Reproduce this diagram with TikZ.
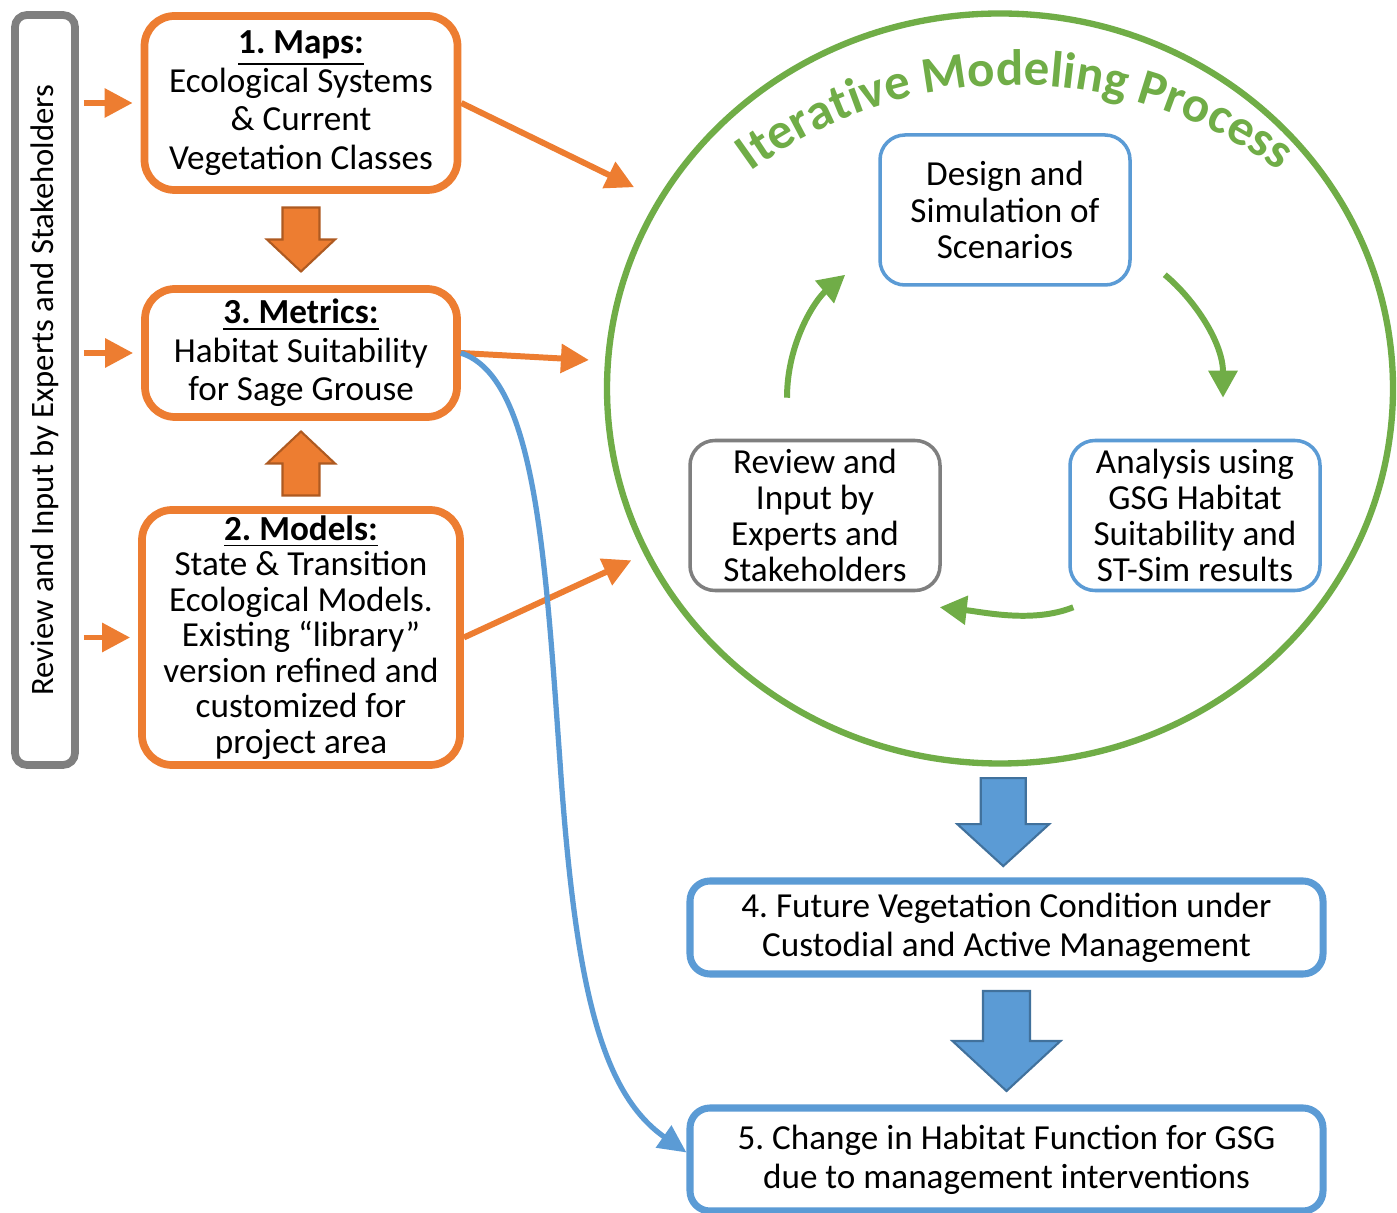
\documentclass[tikz,border=0pt]{standalone}
\usepackage{fontspec}
\setmainfont{Carlito}
\usetikzlibrary{arrows.meta, positioning, shapes.geometric, decorations.text, calc}

\definecolor{orng}{HTML}{ED7D31}
\definecolor{obdr}{HTML}{AE5A21}
\definecolor{blu}{HTML}{5B9BD5}
\definecolor{bbdr}{HTML}{41719C}
\definecolor{grn}{HTML}{70AD47}
\definecolor{gry}{HTML}{7F7F7F}

\tikzset{
  obox/.style = {draw=orng, line width=2.2pt, rounded corners=0.3cm, align=center, inner sep=0pt, font=\fontsize{10}{11}\selectfont},
  ibox/.style = {draw=blu, line width=1pt, rounded corners=0.25cm, align=center, inner sep=0pt,
                 minimum width=2.5cm, minimum height=1.5cm, font=\fontsize{10}{10.3}\selectfont},
  fbox/.style = {draw=blu, line width=2pt, rounded corners=0.2cm, align=center, inner sep=0pt,
                 minimum width=6.33cm, font=\fontsize{10}{11}\selectfont},
  panel/.style = {draw=gry, line width=2.2pt, rounded corners=0.12cm, inner sep=0pt,
                  minimum width=0.6cm, minimum height=7.5cm, font=\fontsize{9.3}{10}\selectfont},
  cyc/.style = {ellipse, draw=grn, line width=1.8pt, inner sep=0pt, minimum width=7.86cm, minimum height=7.5cm},
  oarrow/.style = {draw=orng, line width=1.7pt, -{Triangle[length=0.28cm, width=0.28cm]}},
  garrow/.style = {color=grn, line width=1.7pt, -{Triangle[length=0.27cm, width=0.28cm, fill=grn]}},
  barrow/.style = {draw=blu, line width=1.5pt, -{Triangle[length=0.28cm, width=0.26cm]}},
  pics/bigarrow/.style n args={4}{code={
    \filldraw[pic actions] (-#1,#3/2) -- (#1,#3/2) -- (#1,-#3/2+#4) -- (#2,-#3/2+#4)
      -- (0,-#3/2) -- (-#2,-#3/2+#4) -- (-#1,-#3/2+#4) -- cycle;
  }},
}

\begin{document}
\frenchspacing
\begin{tikzpicture}[on grid, node distance=2.5cm]
\useasboundingbox (0,0) rectangle (13.97,12.12);
\fill[white] (0,0) rectangle (13.97,12.12);

% left column
\node (panel) [panel] at (0.45,8.22) {\rotatebox{90}{Review and Input by Experts and Stakeholders}};
\node (maps) [obox, minimum width=3.13cm, minimum height=1.74cm] at (3.01,11.09)
  {\underline{\textbf{1. Maps:}}\\Ecological Systems\\\& Current\\Vegetation Classes};
\node (metrics) [obox, minimum width=3.12cm, minimum height=1.28cm, below = of maps]
  {\underline{\textbf{3. Metrics:}}\\Habitat Suitability\\for Sage Grouse};
\node (models) [obox, minimum width=3.18cm, minimum height=2.55cm, below = 2.845cm of metrics,
  font=\fontsize{10}{10.1}\selectfont]
  {\underline{\textbf{2. Models:}}\\State \& Transition\\Ecological Models.\\Existing “library”\\version refined and\\customized for\\project area};

\foreach \b in {maps, metrics, models}
  \draw [oarrow, shorten <=0.05cm, shorten >=0.08cm] (panel.east |- \b.west) -- (\b.west);

\pic [fill=orng, draw=obdr, line width=0.6pt] at ($(maps.south)!0.5!(metrics.north)$) {bigarrow={0.185}{0.34}{0.64}{0.32}};
\pic [rotate=180, fill=orng, draw=obdr, line width=0.6pt] at ($(metrics.south)!0.5!(models.north)$) {bigarrow={0.185}{0.34}{0.64}{0.32}};

% iterative cycle
\node (iter) [cyc] at (10.0,8.235) {};
\path [decorate, decoration={text along path, text align=center, text color=grn,
    text={|\fontsize{14.5}{15}\selectfont\bfseries|Iterative Modeling Process}}]
  (10.15,6.80) ++(130:4.47) arc[start angle=130, end angle=50, radius=4.47];

\node (design) [ibox] at (10.05,10.02) {Design and\\Simulation of\\Scenarios};
\node (reviewin) [ibox, draw=gry, below left = 3.055cm and 1.9cm of design]
  {Review and\\Input by\\Experts and\\Stakeholders};
\node (analysis) [ibox, below right = 3.055cm and 1.9cm of design]
  {Analysis using\\GSG Habitat\\Suitability and\\ST-Sim results};

\draw [garrow] ([shift={(-0.28,0.41)}]reviewin.north) .. controls +(0,0.55) and +(-0.3,-0.25) .. ([shift={(-0.33,0.12)}]design.south west);
\draw [garrow] ([shift={(0.33,0.12)}]design.south east) .. controls +(0.3,-0.25) and +(0,0.55) .. ([shift={(0.28,0.41)}]analysis.north);
\draw [garrow] ([shift={(0.05,-0.15)}]analysis.south west) .. controls +(-0.4,-0.16) and +(0.45,-0.05) .. ([shift={(-0.02,-0.15)}]reviewin.south east);

\draw [oarrow, shorten >=0.26cm] (maps.east) -- (iter.151);
\draw [oarrow, shorten >=0.16cm] (metrics.east) -- (iter.176);
\draw [oarrow, shorten >=0.14cm] (models.east) -- (iter.205);

% results
\node (future) [fbox, minimum height=0.93cm] at (10.065,2.845)
  {4. Future Vegetation Condition under\\Custodial and Active Management};
\node (change) [fbox, minimum height=1.03cm, below = 2.32cm of future]
  {5. Change in Habitat Function for GSG\\due to management interventions};

\pic [fill=blu, draw=bbdr, line width=0.6pt] at ($(iter.south)!0.5!(future.north)$) {bigarrow={0.225}{0.46}{0.88}{0.42}};
\pic [fill=blu, draw=bbdr, line width=0.6pt] at ($(future.south)!0.5!(change.north)$) {bigarrow={0.235}{0.54}{1.0}{0.5}};

\draw [barrow] (metrics.east) .. controls (5.35,8.35) and (5.45,6.6) .. (5.6,4.5)
  .. controls (5.75,2.3) and (6.0,1.2) .. ([yshift=0.07cm]change.west);
\end{tikzpicture}
\end{document}
